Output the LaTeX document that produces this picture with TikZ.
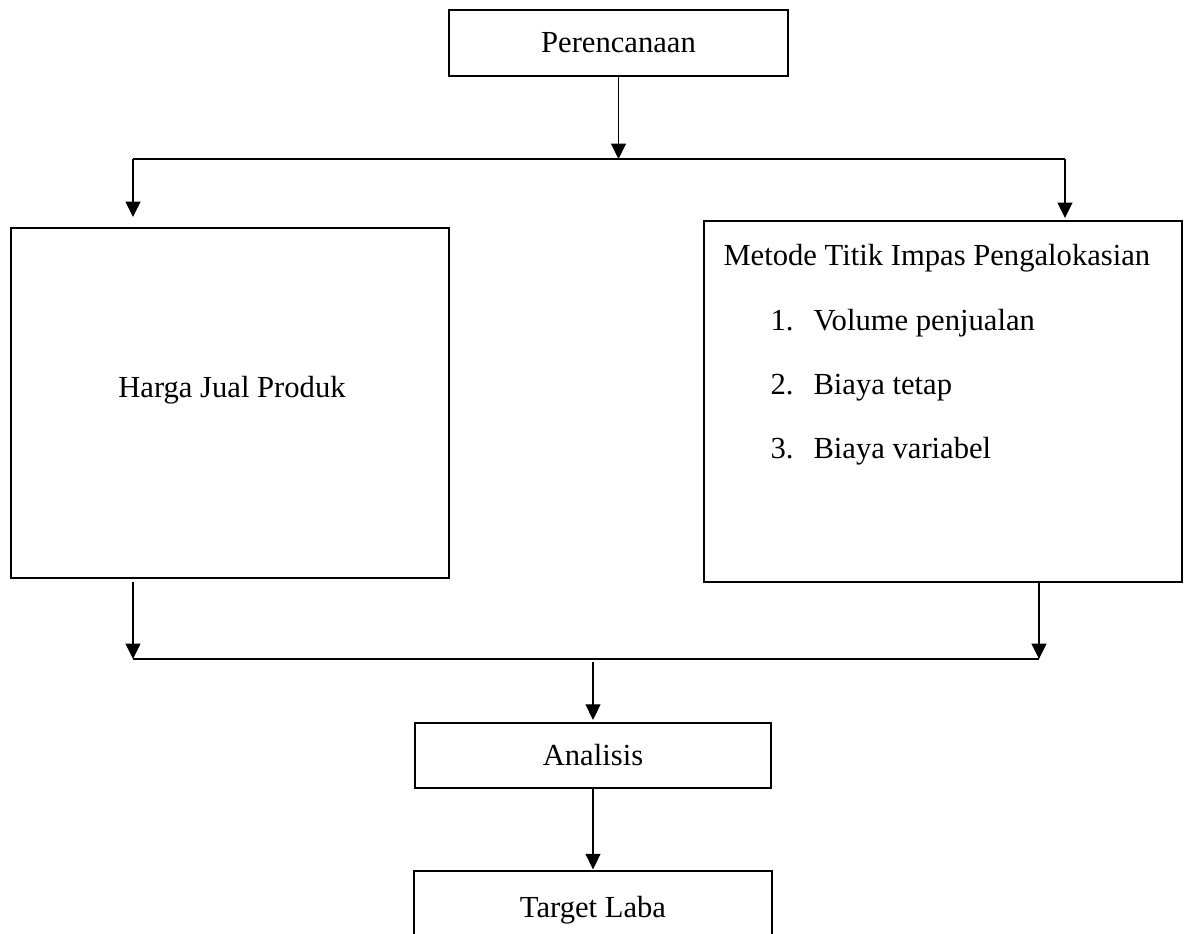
\documentclass[tikz,border=0pt]{standalone}
\usepackage{fontspec}
\setmainfont{Liberation Serif}
\usetikzlibrary{arrows.meta,positioning,calc}

\tikzset{
    kotak/.style={draw, line width=0.5pt, inner sep=0pt, font=\fontsize{12.25}{14}\selectfont},
    teks/.style={inner sep=0pt, font=\fontsize{12.25}{14}\selectfont},
    garis/.style={line width=0.45pt},
    panah/.style={garis, -{Triangle[length=6.2pt,width=6pt]}}
}

\begin{document}
\begin{tikzpicture}[x=0.4pt,y=-0.4pt]
    \useasboundingbox (0,0) rectangle (1186,933);

    % kotak-kotak
    \node[kotak, minimum width=135.6pt, minimum height=26.4pt] (perencanaan) at (618.5,43) {Perencanaan};
    \node[kotak, minimum width=175.2pt, minimum height=140pt] (harga) at (230,403) {};
    \node[teks, anchor=base] (hargateks) at (232,397) {Harga Jual Produk};
    \node[kotak, minimum width=191.2pt, minimum height=144.4pt] (metode) at (943,401.5) {};
    \node[teks, anchor=base west] (metodejudul) at (723,265) {Metode Titik Impas Pengalokasian};
    \node[teks, anchor=base west] (no1) at (770,330) {1.};
    \node[teks, anchor=base west] (isi1) at (813,330) {Volume penjualan};
    \node[teks, anchor=base west] (no2) at (770,394) {2.};
    \node[teks, anchor=base west] (isi2) at (813,394) {Biaya tetap};
    \node[teks, anchor=base west] (no3) at (770,458) {3.};
    \node[teks, anchor=base west] (isi3) at (813,458) {Biaya variabel};
    \node[kotak, minimum width=142.4pt, minimum height=26pt] (analisis) at (593,755.5) {Analisis};
    \node[kotak, minimum width=143.2pt, minimum height=31.2pt] (target) at (593,910) {Target Laba};

    % titik cabang
    \coordinate (cabang) at (618.5,159);
    \coordinate (kiriatas) at (133,159);
    \coordinate (kananatas) at (1065,159);
    \coordinate (kiriujung) at (133,217);
    \coordinate (kananujung) at (1065,218);
    \coordinate (kiribawah) at (133,582);
    \coordinate (kananbawah) at (1039,582);
    \coordinate (kirigabung) at (133,659);
    \coordinate (kanangabung) at (1039,659);
    \coordinate (tengah) at (593,662);

    % panah
    \draw[panah] (perencanaan.south) -- (cabang);
    \draw[garis] (kiriatas) -- (kananatas);
    \draw[panah] (kiriatas) -- (kiriujung);
    \draw[panah] (kananatas) -- (kananujung);
    \draw[panah] (kiribawah) -- (kirigabung);
    \draw[panah] (kananbawah) -- (kanangabung);
    \draw[garis] (kirigabung) -- (kanangabung);
    \draw[panah] (tengah) -- ([yshift=1pt]analisis.north);
    \draw[panah] (analisis.south) -- ([yshift=0.4pt]target.north);
\end{tikzpicture}
\end{document}
